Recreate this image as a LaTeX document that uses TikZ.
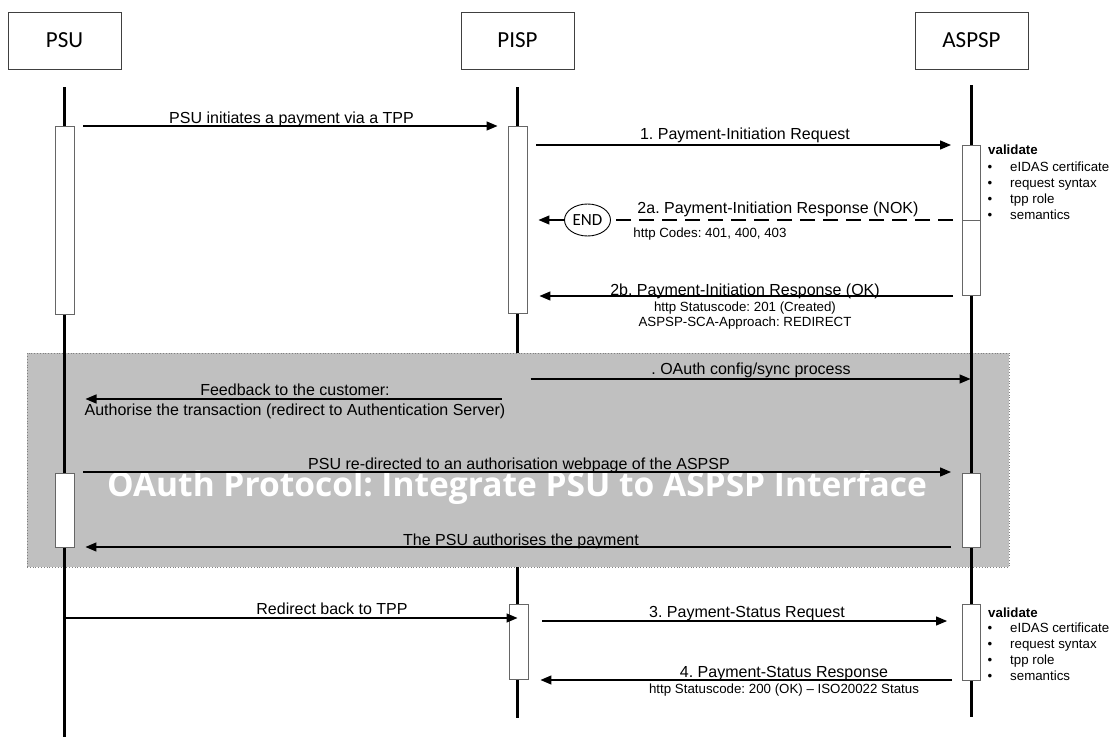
\documentclass[tikz,border=0pt]{standalone}
\usepackage{fontspec}
\setmainfont{Liberation Sans}
\newfontfamily\boxfont{Carlito}
\newfontfamily\wmfont{Open Sans}
\usetikzlibrary{arrows.meta,shapes.geometric}
\definecolor{oauthgray}{HTML}{C0C0C0}
\definecolor{framegray}{HTML}{404040}
\frenchspacing
\tikzset{
  >={Triangle[length=11pt,width=9pt]},
  actor/.style={draw=framegray,line width=0.9pt,minimum width=113pt,minimum height=57pt,inner sep=0pt,font=\boxfont\fontsize{23}{27}\selectfont},
  lifeline/.style={line width=2.5pt},
  actbar/.style={draw=black!60,fill=white,line width=0.9pt,minimum width=19pt,inner sep=0pt},
  msg/.style={->,line width=1.3pt,shorten <=9pt,shorten >=11pt},
  dashmsg/.style={line width=1.3pt,dash pattern=on 15pt off 8pt,shorten <=9pt,shorten >=4pt},
  lbl/.style={anchor=base,inner sep=0pt,font=\fontsize{16}{19}\selectfont},
  sublbl/.style={anchor=base,inner sep=0pt,font=\fontsize{13.3}{16}\selectfont},
  vhead/.style={anchor=base west,inner sep=0pt,font=\bfseries\fontsize{13.3}{16}\selectfont},
  vitem/.style={anchor=base west,inner sep=0pt,font=\fontsize{13.3}{16}\selectfont},
  vbullet/.style={anchor=base,inner sep=0pt,font=\fontsize{13.3}{16}\selectfont},
  endstate/.style={ellipse,draw=black,line width=0.9pt,minimum width=46pt,minimum height=32pt,inner sep=0pt,font=\boxfont\fontsize{17}{20}\selectfont},
  oauthbox/.style={draw=black!50,dotted,fill=oauthgray,line width=0.8pt,minimum width=982pt,minimum height=214pt,inner sep=0pt},
  wmark/.style={anchor=base,inner sep=0pt,text=white,font=\wmfont\bfseries\fontsize{33.5}{40}\selectfont}
}

\begin{document}
\begin{tikzpicture}[x=1pt,y=-1pt]
    \useasboundingbox[fill=white] (0,0) rectangle (1114,738);

    %OAuth block
    \node[oauthbox] (oauth) at (518,460) {};
    \node[wmark] (wm) at (517,496) {OAuth Protocol: Integrate PSU to ASPSP Interface};

    %Actors
    \node[actor] (psu) at (64.5,40.5) {PSU};
    \node[actor] (pisp) at (517.5,40.5) {PISP};
    \node[actor] (aspsp) at (971.5,40.5) {ASPSP};

    %Lifelines
    \draw[lifeline] ([yshift=-18pt]psu.south) -- (psu |- 0,737);
    \draw[lifeline] ([yshift=-18pt]pisp.south) -- (pisp |- oauth.north);
    \draw[lifeline] (pisp |- oauth.south) -- (pisp |- 0,718);
    \draw[lifeline] ([yshift=-16pt]aspsp.south) -- (aspsp |- 0,717);

    %Activations
    \node[actbar,minimum height=188pt] (psuAct1) at (64.5,220) {};
    \node[actbar,minimum height=187pt] (pispAct1) at (517.5,219.5) {};
    \node[actbar,minimum width=18pt,minimum height=150pt] (aspspAct1) at (971.5,220) {};
    \draw[draw=black!60,line width=0.9pt] (aspspAct1.west |- 0,220) -- (aspspAct1.east |- 0,220);
    \node[actbar,minimum height=74pt] (psuAct2) at (64.5,510) {};
    \node[actbar,minimum width=18pt,minimum height=74pt] (aspspAct2) at (971.5,510) {};
    \node[actbar,minimum height=75pt] (pispAct2) at (518.5,641.5) {};
    \node[actbar,minimum width=18pt,minimum height=76pt] (aspspAct3) at (971.5,642) {};

    %Initiation
    \draw[msg,shorten >=10pt] (psuAct1.east |- 0,126) -- (pispAct1.west |- 0,126);
    \node[lbl] (lInit) at (291.5,124) {PSU initiates a payment via a TPP};
    \draw[msg] (pispAct1.east |- 0,145) -- (aspspAct1.west |- 0,145);
    \node[lbl] (lReq) at (745,140) {1. Payment-Initiation Request};

    %NOK
    \node[endstate] (stop) at (587.5,220) {END};
    \draw[dashmsg] (aspspAct1.west |- stop) -- (stop.east);
    \draw[msg,shorten <=0pt] (stop.west) -- (pispAct1.east |- stop);
    \node[lbl] (lNok) at (778,213.5) {2a. Payment-Initiation Response (NOK)};
    \node[sublbl] (lCodes) at (710,238) {http Codes: 401, 400, 403};

    %OK
    \draw[msg,shorten >=12pt] (aspspAct1.west |- 0,296) -- (pispAct1.east |- 0,296);
    \node[lbl] (lOk) at (745,295) {2b. Payment-Initiation Response (OK)};
    \node[sublbl] (lCreated) at (745,311) {http Statuscode: 201 (Created)};
    \node[sublbl] (lApproach) at (745,326) {ASPSP-SCA-Approach: REDIRECT};

    %OAuth messages
    \draw[msg,shorten <=13pt,shorten >=1pt] (pisp |- 0,379) -- (aspsp |- 0,379);
    \node[lbl] (lSync) at (751,374) {. OAuth config/sync process};
    \draw[msg,shorten <=16pt,shorten >=21pt] (pisp |- 0,399) -- (psu |- 0,399);
    \node[lbl] (lFeed1) at (295,395) {Feedback to the customer:};
    \node[lbl] (lFeed2) at (295,415) {Authorise the transaction (redirect to Authentication Server)};
    \draw[msg] (psuAct2.east |- 0,472) -- (aspspAct2.west |- 0,472);
    \node[lbl] (lRedir) at (519,469) {PSU re-directed to an authorisation webpage of the ASPSP};
    \draw[msg,shorten <=11pt] (aspspAct2.west |- 0,547) -- (psuAct2.east |- 0,547);
    \node[lbl] (lAuth) at (521,545) {The PSU authorises the payment};

    %Status
    \draw[msg,shorten <=0pt,shorten >=0pt] (psu |- 0,618) -- (pisp |- 0,618);
    \node[lbl] (lBack) at (332,614) {Redirect back to TPP};
    \draw[msg,shorten <=14pt,shorten >=15pt] (pispAct2.east |- 0,621) -- (aspspAct3.west |- 0,621);
    \node[lbl] (lStatReq) at (747,617) {3. Payment-Status Request};
    \draw[msg,shorten <=10pt,shorten >=12pt] (aspspAct3.west |- 0,680) -- (pispAct2.east |- 0,680);
    \node[lbl] (lStatResp) at (784,677) {4. Payment-Status Response};
    \node[sublbl] (lStat200) at (784,693) {http Statuscode: 200 (OK) \textendash{} ISO20022 Status};

    %Validate
    \node[vhead] (val1) at (988,154.5) {validate};
    \foreach \t [count=\i] in {eIDAS certificate,request syntax,tpp role,semantics}{
        \node[vbullet] (b1\i) at (990,156+16*\i) {\textbullet};
        \node[vitem] (v1\i) at (1010,156+16*\i) {\t};
    }
    \node[vhead] (val2) at (988,617) {validate};
    \foreach \t [count=\i] in {eIDAS certificate,request syntax,tpp role,semantics}{
        \node[vbullet] (b2\i) at (990,616+16*\i) {\textbullet};
        \node[vitem] (v2\i) at (1010,616+16*\i) {\t};
    }
\end{tikzpicture}
\end{document}
